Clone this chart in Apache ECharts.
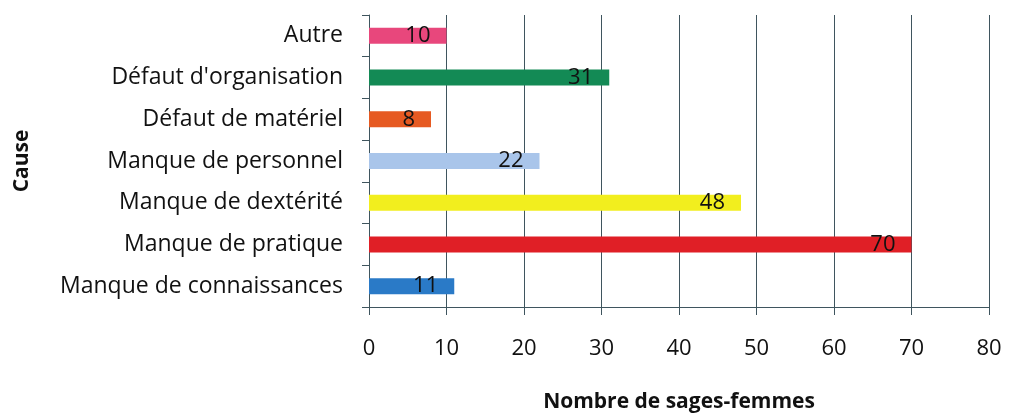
<!DOCTYPE html>
<html>
<head>
<meta charset="utf-8">
<script src="https://cdn.jsdelivr.net/npm/echarts@6/dist/echarts.min.js"></script>
<style>
  html, body { margin: 0; padding: 0; background: #fff; }
  #chart { width: 1013px; height: 414px; }
</style>
</head>
<body>
<div id="chart"></div>
<script>
// categories from top to bottom
const causes = [
    'Autre',
    "Défaut d'organisation",
    'Défaut de matériel',
    'Manque de personnel',
    'Manque de dextérité',
    'Manque de pratique',
    'Manque de connaissances'
];
const counts = [10, 31, 8, 22, 48, 70, 11];
const barColors = ['#e8477c', '#138a55', '#e65a22', '#a9c5ea', '#f2ee1e', '#e01f26', '#2a7ac7'];
const xTicks = [0, 10, 20, 30, 40, 50, 60, 70, 80];

const font = '"Open Sans", sans-serif';
const lineColor = '#3f555e';

const chart = echarts.init(document.getElementById('chart'));

chart.setOption({
    animation: false,
    grid: {
        left: 369,
        right: 24,
        top: 15,
        bottom: 107,
        outerBoundsMode: 'none',
        containLabel: false
    },
    xAxis: {
        type: 'value',
        min: xTicks[0],
        max: xTicks[xTicks.length - 1],
        interval: 10,
        name: 'Nombre de sages-femmes',
        nameLocation: 'middle',
        nameGap: 85,
        nameTextStyle: {
            fontFamily: font,
            fontSize: 21,
            fontWeight: 'bold',
            color: '#111'
        },
        axisLine: { show: true, lineStyle: { color: lineColor, width: 1 } },
        axisTick: { show: true, length: 8, lineStyle: { color: lineColor } },
        axisLabel: {
            margin: 31,
            fontFamily: font,
            fontSize: 22,
            color: '#111'
        },
        splitLine: { show: true, lineStyle: { color: lineColor, width: 1 } }
    },
    yAxis: {
        type: 'category',
        data: causes,
        inverse: true,
        name: 'Cause',
        nameLocation: 'middle',
        nameGap: 336,
        nameRotate: 90,
        nameTextStyle: {
            fontFamily: font,
            fontSize: 21,
            fontWeight: 'bold',
            color: '#111'
        },
        axisLine: { show: true, lineStyle: { color: lineColor, width: 1 } },
        axisTick: { show: true, length: 7, lineStyle: { color: lineColor } },
        axisLabel: {
            margin: 26,
            fontFamily: font,
            fontSize: 23,
            color: '#111'
        },
        splitLine: { show: false }
    },
    series: [{
        type: 'bar',
        barWidth: 16,
        data: counts.map((v, i) => ({
            value: v,
            itemStyle: { color: barColors[i] }
        })),
        label: {
            show: true,
            position: 'insideRight',
            distance: 16,
            fontFamily: font,
            fontSize: 22,
            color: '#111'
        }
    }]
});
</script>
</body>
</html>
